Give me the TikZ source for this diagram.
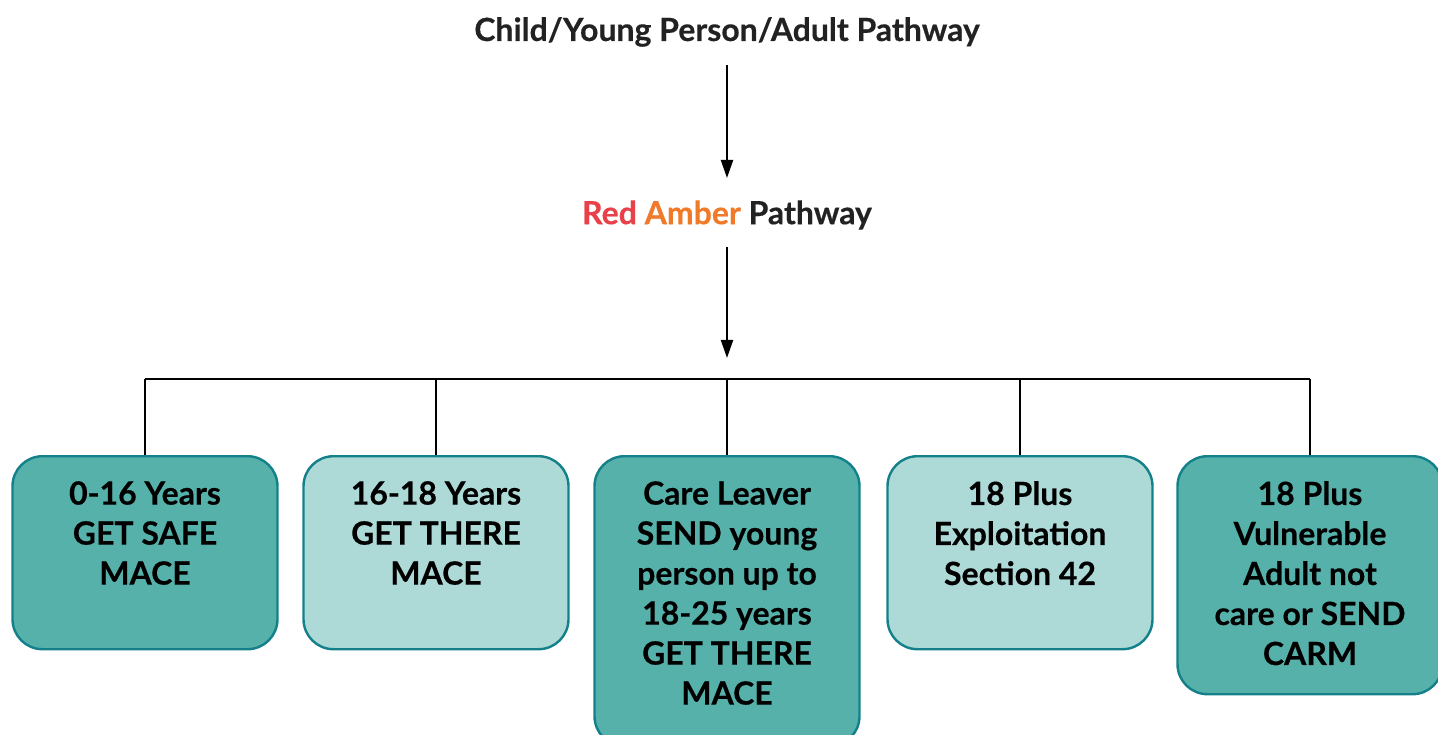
\documentclass[tikz,border=0pt]{standalone}
\usepackage{fontspec}
\setmainfont{Lato}[UprightFont=* Bold, UprightFeatures={FakeBold=0.4}]
\usetikzlibrary{arrows.meta}
\definecolor{darkfill}{HTML}{56B1AB}
\definecolor{lightfill}{HTML}{ADD9D7}
\definecolor{boxborder}{HTML}{13808A}
\definecolor{redtxt}{HTML}{E8414A}
\definecolor{ambertxt}{HTML}{F07A2A}
\definecolor{darktxt}{HTML}{222222}
\tikzset{
  box/.style={draw=boxborder, line width=2.4pt, rounded corners=30pt, minimum width=265pt, anchor=north, inner sep=0pt},
  darkbox/.style={box, fill=darkfill},
  lightbox/.style={box, fill=lightfill},
  boxtext/.style={anchor=north, align=center, font=\fontsize{32}{40}\selectfont, inner sep=0pt, text=black},
  conn/.style={line width=2pt, black},
  arr/.style={conn, -{Triangle[length=18pt,width=12pt]}},
  title/.style={font=\fontsize{32}{36}\selectfont, text=darktxt, inner sep=0pt}
}
\begin{document}
\begin{tikzpicture}[x=1pt,y=-1pt]
\useasboundingbox (0,0) rectangle (1438,735);
\node[title] (t1) at (727,32) {Child/Young Person/Adult Pathway};
\node[title] (t2) at (727,215) {\textcolor{redtxt}{Red} \textcolor{ambertxt}{Amber} Pathway};
\coordinate (a1s) at (727,65);
\coordinate (a1e) at (727,178);
\coordinate (a2s) at (727,247);
\coordinate (a2e) at (727,358);
\draw[arr] (a1s) -- (a1e);
\draw[arr] (a2s) -- (a2e);
\node[darkbox, minimum height=193pt] (b1) at (145,455) {};
\node[lightbox, minimum height=193pt] (b2) at (436,455) {};
\node[darkbox, minimum height=290pt] (b3) at (727,455) {};
\node[lightbox, minimum height=193pt] (b4) at (1020,455) {};
\node[darkbox, minimum height=238pt] (b5) at (1310,455) {};
\foreach \n/\t in {b1/{0-16 Years\\GET SAFE\\MACE}, b2/{16-18 Years\\GET THERE\\MACE}, b3/{Care Leaver\\SEND young\\person up to\\18-25 years\\GET THERE\\MACE}, b4/{18 Plus\\Exploitation\\Section 42}, b5/{18 Plus\\Vulnerable\\Adult not\\care or SEND\\CARM}}
  \node[boxtext] (\n t) at ([yshift=-26pt]\n.north) {\t};
\coordinate (hl) at (145,379);
\coordinate (hr) at (1310,379);
\draw[conn] (hl) -- (hr);
\foreach \b in {b1,b2,b3,b4,b5}
  \draw[conn] (\b.north |- hl) -- (\b.north);
\end{tikzpicture}
\end{document}
